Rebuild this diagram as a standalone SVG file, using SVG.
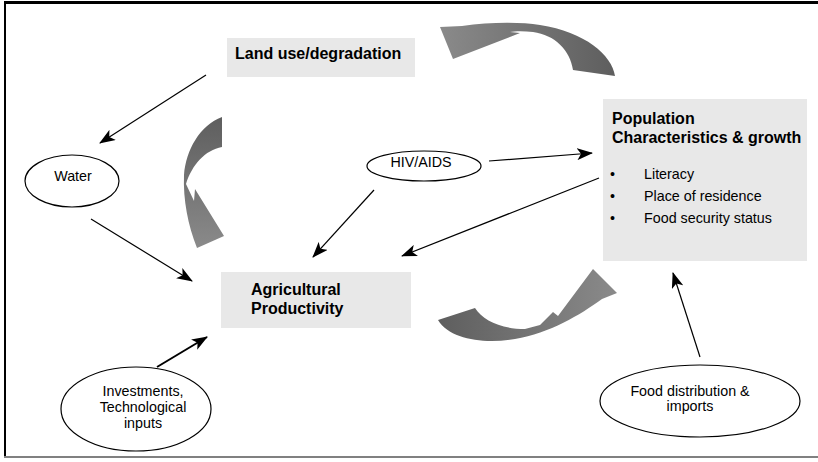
<svg xmlns="http://www.w3.org/2000/svg" width="818" height="462" viewBox="0 0 818 462">
<style>
.box{fill:#e8e8e8;stroke:none}
.ell{fill:#fff;stroke:#000;stroke-width:1.2}
.b{font-family:"Liberation Sans",Arial,sans-serif;font-weight:bold;font-size:16px;fill:#000}
.t{font-family:"Liberation Sans",Arial,sans-serif;font-size:14.3px;fill:#000}
.c{text-anchor:middle}
.con{stroke:#000;stroke-width:1.2;fill:none;marker-end:url(#ah)}
</style>
<defs>
<marker id="ah" viewBox="0 0 16 12" refX="15" refY="6" markerWidth="16" markerHeight="12" markerUnits="userSpaceOnUse" orient="auto">
<path d="M16,6 L0,0 L4,6 L0,12 Z" fill="#000"/>
</marker>
<linearGradient id="gTop" x1="1" y1="0" x2="0" y2="0">
<stop offset="0" stop-color="#5e5e5e"/><stop offset="1" stop-color="#8a8a8a"/>
</linearGradient>
<linearGradient id="gLeft" x1="0" y1="0" x2="0" y2="1">
<stop offset="0" stop-color="#5e5e5e"/><stop offset="1" stop-color="#8a8a8a"/>
</linearGradient>
<linearGradient id="gBot" x1="0" y1="0" x2="1" y2="0">
<stop offset="0" stop-color="#5e5e5e"/><stop offset="1" stop-color="#8a8a8a"/>
</linearGradient>
</defs>
<rect x="0" y="0" width="818" height="462" fill="#fff"/>
<g id="frame">
<line x1="4" y1="2.5" x2="818" y2="2.5" stroke="#000" stroke-width="3"/>
<line x1="5" y1="2" x2="5" y2="458" stroke="#000" stroke-width="2"/>
<line x1="4" y1="457" x2="818" y2="457" stroke="#808080" stroke-width="2"/>
</g>
<g id="block-arrows">
<path id="curve-top" d="M440 27 L462 26 C490 22,520 22,540 25 C585 32,612 55,615 76 L573 70 C570 50,555 35,533 32 C525 31,515 31,510 32 L520 33 L453 59 Z" fill="url(#gTop)"/>
<path id="curve-left" d="M222 117 C200 125,186 150,184 175 C183 200,188 225,197 248 L224 236 L195 189 L194 201 L186 184 C192 165,205 150,222 147 Z" fill="url(#gLeft)"/>
<path id="curve-bottom" d="M438 320 L475 308 C483 320,500 329,525 329 L540 325 L553 312 L558 316 L593 269 L617 293 L602 299 C580 315,550 333,515 339 C485 344,450 340,438 320 Z" fill="url(#gBot)"/>
</g>
<g id="connectors">
<line class="con" x1="206" y1="75" x2="100" y2="143"/>
<line class="con" x1="91" y1="219" x2="192" y2="281"/>
<line class="con" x1="374" y1="190" x2="313" y2="257"/>
<line class="con" x1="599" y1="178" x2="402" y2="256"/>
<line class="con" x1="489" y1="161" x2="592" y2="153"/>
<line class="con" x1="157" y1="367" x2="207" y2="337" style="stroke-width:2"/>
<line class="con" x1="700" y1="357" x2="673" y2="273"/>
</g>
<g id="land-use">
<rect class="box" x="227" y="38" width="188" height="39"/>
<text class="b" x="235" y="59">Land use/degradation</text>
</g>
<g id="population">
<rect class="box" x="603" y="99" width="204" height="162"/>
<text class="b" x="612" y="124">Population</text>
<text class="b" x="612" y="143">Characteristics &amp; growth</text>
<text class="t" x="610" y="179">•</text>
<text class="t" x="644" y="179">Literacy</text>
<text class="t" x="610" y="201">•</text>
<text class="t" x="644" y="201">Place of residence</text>
<text class="t" x="610" y="223">•</text>
<text class="t" x="644" y="223">Food security status</text>
</g>
<g id="agricultural">
<rect class="box" x="221" y="272" width="190" height="56"/>
<text class="b" x="251" y="295">Agricultural</text>
<text class="b" x="251" y="314">Productivity</text>
</g>
<g id="water">
<ellipse class="ell" cx="72" cy="181" rx="47" ry="26"/>
<text class="t c" x="73" y="181">Water</text>
</g>
<g id="hiv">
<ellipse class="ell" cx="424" cy="166" rx="57" ry="15"/>
<text class="t c" x="421" y="167">HIV/AIDS</text>
</g>
<g id="investments">
<ellipse class="ell" cx="136" cy="409" rx="75" ry="42"/>
<text class="t c" x="143" y="396">Investments,</text>
<text class="t c" x="143" y="412">Technological</text>
<text class="t c" x="143" y="428">inputs</text>
</g>
<g id="food">
<ellipse class="ell" cx="700" cy="401" rx="100" ry="36"/>
<text class="t c" x="690" y="396">Food distribution &amp;</text>
<text class="t c" x="690" y="411">imports</text>
</g>
</svg>
